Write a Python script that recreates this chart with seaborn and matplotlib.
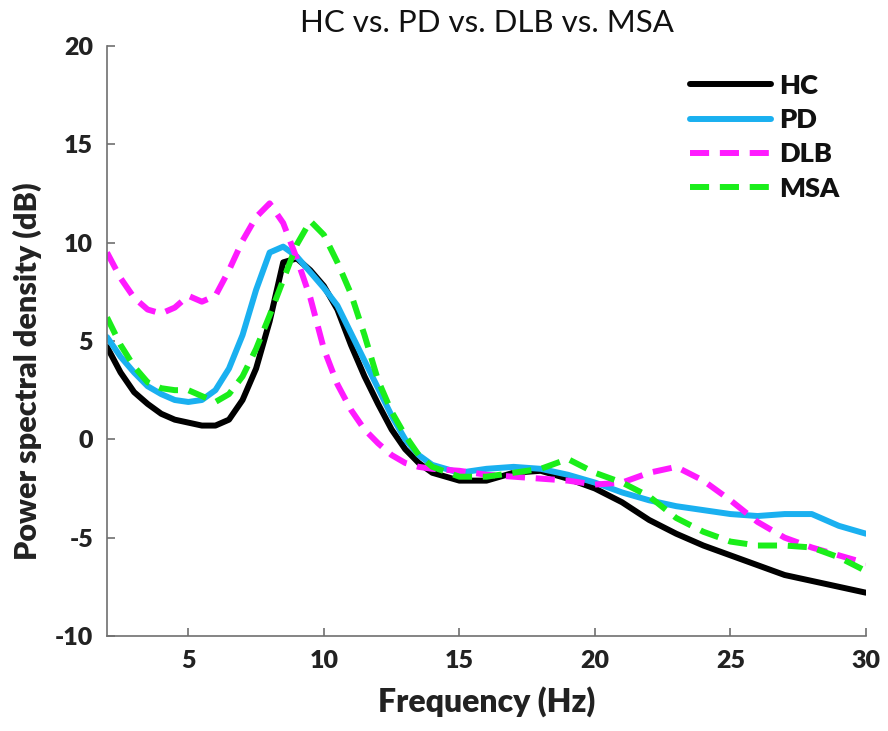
import numpy as np
import pandas as pd
import matplotlib
matplotlib.use('Agg')
import matplotlib.pyplot as plt
import seaborn as sns

# frequency grid (Hz)
freq = [2, 2.5, 3, 3.5, 4, 4.5, 5, 5.5, 6, 6.5, 7, 7.5, 8, 8.5, 9, 9.5, 10, 10.5,
        11, 11.5, 12, 12.5, 13, 13.5, 14, 15, 16, 17, 18, 19, 20, 21, 22, 23, 24,
        25, 26, 27, 28, 29, 30]

# power spectral density (dB) for each group
hc = [4.7, 3.4, 2.4, 1.8, 1.3, 1.0, 0.85, 0.7, 0.7, 1.0, 2.0, 3.6, 6.0, 9.0, 9.2,
      8.6, 7.8, 6.6, 4.8, 3.2, 1.8, 0.5, -0.5, -1.2, -1.7, -2.1, -2.1, -1.7, -1.6,
      -2.0, -2.5, -3.2, -4.1, -4.8, -5.4, -5.9, -6.4, -6.9, -7.2, -7.5, -7.8]
pd_ = [5.2, 4.2, 3.4, 2.7, 2.3, 2.0, 1.9, 2.0, 2.5, 3.6, 5.3, 7.6, 9.5, 9.8, 9.3,
       8.5, 7.7, 6.8, 5.4, 4.0, 2.6, 1.2, 0.0, -0.8, -1.3, -1.7, -1.5, -1.4, -1.5,
       -1.8, -2.2, -2.7, -3.1, -3.4, -3.6, -3.8, -3.9, -3.8, -3.8, -4.4, -4.8]
dlb = [9.5, 8.2, 7.2, 6.6, 6.4, 6.7, 7.3, 7.0, 7.3, 8.6, 10.1, 11.3, 12.0, 11.0,
       9.2, 7.2, 4.6, 2.8, 1.5, 0.5, -0.2, -0.8, -1.2, -1.4, -1.5, -1.6, -1.8,
       -1.9, -2.0, -2.1, -2.3, -2.2, -1.7, -1.4, -2.1, -3.1, -4.2, -5.0, -5.5,
       -5.9, -6.3]
msa = [6.2, 4.8, 3.7, 2.9, 2.6, 2.5, 2.5, 2.2, 1.9, 2.3, 3.2, 4.6, 6.3, 8.1, 9.9,
       11.1, 10.4, 9.0, 7.4, 5.3, 3.0, 1.4, 0.2, -0.8, -1.4, -1.9, -1.9, -1.7,
       -1.5, -1.0, -1.7, -2.2, -2.9, -4.0, -4.7, -5.2, -5.4, -5.4, -5.5, -6.0, -6.7]

groups = ['HC', 'PD', 'DLB', 'MSA']
colors = {'HC': '#000000', 'PD': '#1AB0F0', 'DLB': '#FF1AFF', 'MSA': '#1AEE1A'}
dashes = {'HC': '', 'PD': '', 'DLB': (3.2, 1.8), 'MSA': (3.2, 1.8)}

df = pd.concat([
    pd.DataFrame({'freq': freq, 'psd': vals, 'group': g})
    for g, vals in zip(groups, [hc, pd_, dlb, msa])
], ignore_index=True)

sns.set_style('ticks')
plt.rcParams['font.family'] = ['Lato', 'DejaVu Sans']
plt.rcParams['axes.unicode_minus'] = False

fig = plt.figure(figsize=(8.88, 7.31), dpi=100)
ax = fig.add_axes([0.1205, 0.130, 0.8547, 0.807])

sns.lineplot(data=df, x='freq', y='psd', hue='group', style='group',
             hue_order=groups, style_order=groups, palette=colors,
             dashes=dashes, linewidth=4.3, ax=ax)

ax.set_xlim(2, 30)
ax.set_ylim(-10, 20)
ax.set_xticks([5, 10, 15, 20, 25, 30])
ax.set_yticks([-10, -5, 0, 5, 10, 15, 20])
for s in ['top', 'right']:
    ax.spines[s].set_visible(False)
for s in ['left', 'bottom']:
    ax.spines[s].set_color('#707070')
    ax.spines[s].set_linewidth(1.2)
ax.tick_params(direction='in', length=6, width=1.2, color='#707070',
               labelsize=18, labelcolor='#222222', pad=10)
for lab in ax.get_xticklabels() + ax.get_yticklabels():
    lab.set_fontweight('heavy')

ax.set_title('HC vs. PD vs. DLB vs. MSA', fontsize=22.5, color='#111111', pad=10)
ax.set_xlabel('Frequency (Hz)', fontsize=23, fontweight='heavy', color='#222222',
              labelpad=10)
ax.set_ylabel('Power spectral density (dB)', fontsize=22, fontweight='heavy',
              color='#222222')
ax.yaxis.set_label_coords(-0.086, 0.449)

leg = ax.legend(loc='upper right', frameon=False, handlelength=3.0,
                prop={'weight': 'heavy', 'size': 19.5}, labelspacing=0.38,
                borderaxespad=0.3, handletextpad=0.3, bbox_to_anchor=(0.99, 0.985))
for t in leg.get_texts():
    t.set_color('#111111')

fig.savefig('out.png', dpi=100)
